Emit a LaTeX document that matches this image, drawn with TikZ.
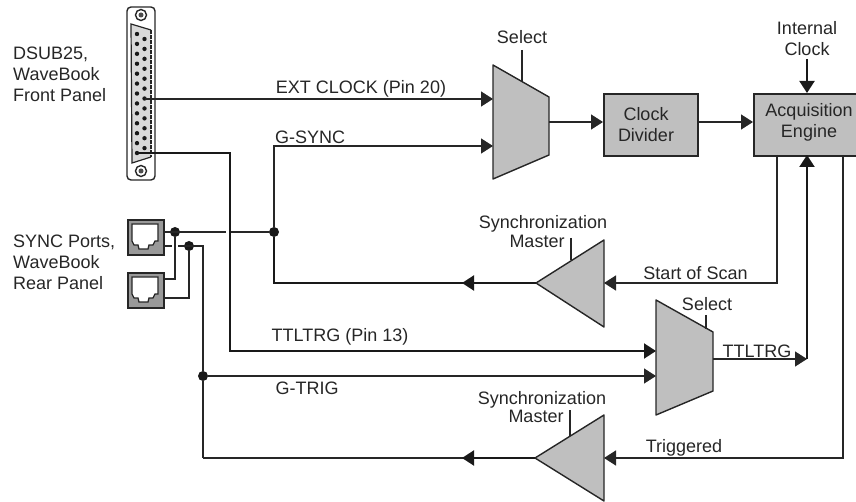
\documentclass[tikz,border=0pt]{standalone}
\usepackage{fontspec}
\setmainfont{Liberation Sans}
\usetikzlibrary{arrows.meta, positioning}

\begin{document}
\begin{tikzpicture}[
x=1pt, y=-1pt,
every node/.style={font=\fontsize{18}{21}\selectfont, text=black!85, inner sep=0pt},
wire/.style={draw=black!85, line width=1.4pt},
thickwire/.style={draw=black!90, line width=2pt},
arrow/.style={wire, -{Triangle[length=12pt, width=15pt]}},
thickarrow/.style={thickwire, -{Triangle[length=12pt, width=15pt]}},
box/.style={rectangle, draw=black!85, fill=black!25, line width=1.6pt, minimum width=94pt, minimum height=62pt, anchor=north west},
part/.style={draw=black!85, fill=black!25, line width=1.4pt, line join=round},
dot/.style={circle, fill=black!90, minimum size=10pt},
label/.style={align=center},
side/.style={align=left, anchor=north west}
]
\useasboundingbox (0,0) rectangle (856,502);

% DSUB25 connector
\draw[black!85, line width=1.4pt, rounded corners=4pt] (127,7) rectangle (155,180);
\fill[black!15] (131,24) -- (151,30) -- (151,157) -- (132,163) -- cycle;
\draw[black!85, line width=1.2pt] (151,30) -- (131,24) -- (132,163) -- (151,157);
\draw[black!85, line width=1.2pt, dashed, dash pattern=on 4pt off 1pt] (151,30) -- (151,157);
\foreach \y in {15,171} {
  \draw[black!85, line width=1.4pt] (141,\y) circle (5.5pt);
  \fill[black!70] (141,\y) circle (2.5pt);
}
\foreach \n in {0,...,12}
  \fill[black!90] (137,34+\n*9.92) circle (2.2pt);
\foreach \n in {0,...,11}
  \fill[black!90] (144.5,39+\n*9.92) circle (2.2pt);
\coordinate (pin20) at (144.5,99);
\coordinate (pin13) at (137,153);

% SYNC ports
\foreach \name/\y in {portA/219, portB/272} {
  \node[rectangle, draw=black!85, fill=black!40, line width=1.6pt, minimum width=36pt, minimum height=35pt, anchor=north west] (\name) at (127,\y) {};
  \draw[draw=black!85, fill=white, line width=1.3pt, shift={(127,\y)}] (5,5) -- (31,5) -- (31,22) -- (28,22) -- (26,26) -- (22,26) -- (21,30) -- (12,30) -- (11,26) -- (7,26) -- (5,22) -- cycle;
}

% side labels
\node[side] (dsubtext) at (13,47) {DSUB25,\\WaveBook\\Front Panel};
\node[side] (synctext) at (13,235) {SYNC Ports,\\WaveBook\\Rear Panel};

% select blocks
\path[part] (493,65) -- (549,97) -- (549,155) -- (493,179) -- cycle;
\path[part] (656,300) -- (713,332) -- (713,391) -- (656,415) -- cycle;
\coordinate (muxAin1) at (493,99);
\coordinate (muxAin2) at (493,146);
\coordinate (muxAout) at (549,122);
\coordinate (muxBin1) at (656,351);
\coordinate (muxBin2) at (656,376);
\coordinate (muxBout) at (713,359);

% sync master triangles
\path[part] (536,283) coordinate (masterAout) -- (604,240) -- (604,327) -- cycle;
\path[part] (535,458) coordinate (masterBout) -- (604,415) -- (604,501) -- cycle;
\coordinate (masterAin) at (604,283);
\coordinate (masterBin) at (604,458);

% blocks
\node[box] (divider) at (603,93) {};
\node[box, minimum width=103pt] (engine) at (753,93) {};
\node[label] (dividertext) at (646,124.5) {Clock\\Divider};
\node[label] (enginetext) at (809,122) {Acquisition\\Engine};

% junctions
\node[dot] (jportA) at (175,232) {};
\node[dot] (jportB) at (189,246) {};
\node[dot] (jsync) at (274,232) {};
\node[dot] (jtrig) at (203,376) {};

% free ends
\coordinate (gapL) at (226,232);
\coordinate (gapR) at (231,232);
\coordinate (portAout) at (163,232);
\coordinate (portBout) at (163,246);
\coordinate (portAlow) at (163,279);
\coordinate (portBlow) at (163,298);
\coordinate (portBgap) at (172,246);
\coordinate (portBgapR) at (178,246);
\coordinate (trigtop) at (203,246);
\coordinate (scanmid) at (462,283);
\coordinate (trigL) at (203,458);
\coordinate (trigmid) at (462,458);
\coordinate (sosB) at (777,155);
\coordinate (trigB) at (843,155);
\coordinate (ttlB) at (807,155);
\coordinate (ttlC) at (807,359);
\coordinate (clockin) at (807,59);

% connectors
\draw[arrow] (pin20) -- (muxAin1);
\draw[thickarrow] (pin13) -| (230,351) -- (muxBin1);
\draw[arrow] (jsync) |- (muxAin2);
\draw[wire] (portAout) -- (gapL);
\draw[wire] (gapR) -- (jsync);
\draw[wire] (jportA) |- (portAlow);
\draw[wire] (portBout) -- (portBgap);
\draw[wire] (portBgapR) -- (trigtop) -- (jtrig);
\draw[wire] (jportB) |- (portBlow);
\draw[arrow] (jtrig) -- (muxBin2);
\draw[wire] (jtrig) -- (trigL);
\draw[thickwire] (jsync) |- (masterAout);
\draw[thickarrow] (masterAout) -- (scanmid);
\draw[arrow] (sosB) |- (masterAin);
\draw[arrow] (trigB) |- (masterBin);
\draw[wire] (masterBout) -- (trigL);
\draw[thickarrow] (masterBout) -- (trigmid);
\draw[arrow] (muxAout) -- (divider.west |- muxAout);
\draw[arrow] (divider.east |- muxAout) -- (engine.west |- muxAout);
\draw[thickarrow] (clockin) -- (engine.north -| clockin);
\draw[arrow] (muxBout) -- (ttlC);
\draw[thickarrow] (ttlC) -- (ttlB);

% select and master ticks
\draw[wire] (522,50) -- (522,81);
\draw[wire] (706,315) -- (706,329);
\draw[wire] (571,238) -- (571,260);
\draw[wire] (570,410) -- (570,436);

% labels
\node[label] (extclock) at (361,89) {EXT CLOCK (Pin 20)};
\node[label] (gsync) at (310,137) {G-SYNC};
\node[label] (ttlpin) at (340,337) {TTLTRG (Pin 13)};
\node[label] (gtrig) at (307,388) {G-TRIG};
\node[label] (selectA) at (522,37) {Select};
\node[label] (selectB) at (707,304) {Select};
\node[label] (clocktext) at (807,39) {Internal\\Clock};
\node[label] (scantext) at (695.5,273) {Start of Scan};
\node[label] (ttltext) at (757,351) {TTLTRG};
\node[label] (trigtext) at (684,448) {Triggered};
\node[label] (syncAtext) at (543,224) {Synchronization};
\node[label] (masterAtext) at (537,241) {Master};
\node[label] (syncBtext) at (542,400) {Synchronization};
\node[label] (masterBtext) at (536,416) {Master};

\end{tikzpicture}
\end{document}
